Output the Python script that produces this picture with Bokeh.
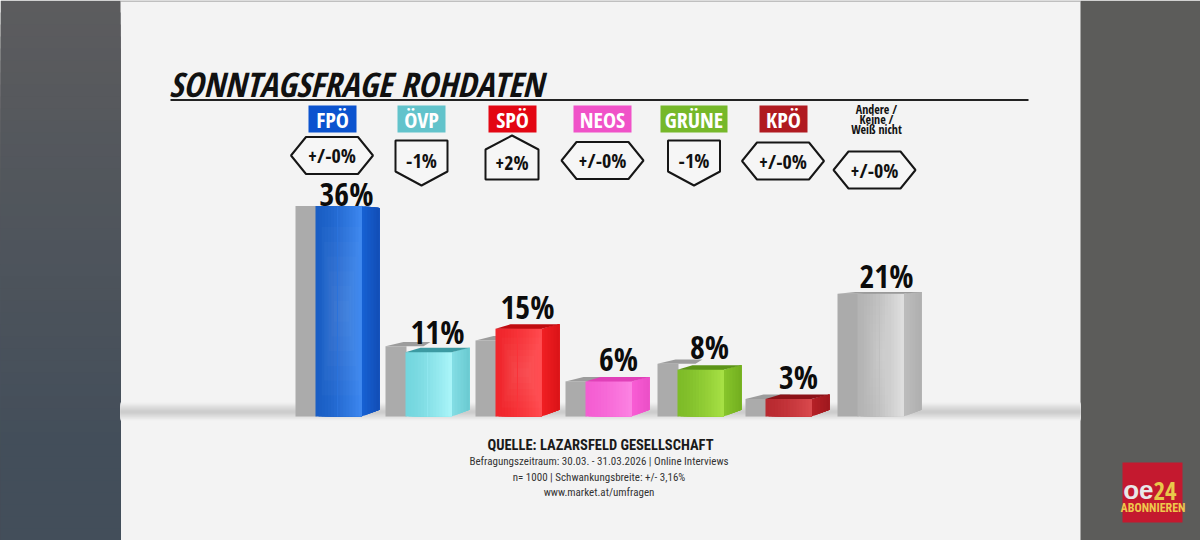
from bokeh.plotting import figure
from bokeh.models import Range1d
from bokeh.core.properties import value
from bokeh.embed import file_html
from bokeh.resources import INLINE

# ---- data ----
parties = ["FPÖ", "ÖVP", "SPÖ", "NEOS", "GRÜNE", "KPÖ", "Andere"]
values = [36, 11, 15, 6, 8, 3, 21]
changes = [0, -1, 2, 0, -1, 0, 0]
value_labels = ["36%", "11%", "15%", "6%", "8%", "3%", "21%"]
change_labels = ["+/-0%", "-1%", "+2%", "+/-0%", "-1%", "+/-0%", "+/-0%"]
other_label = ["Andere /", "Keine /", "Weiß nicht"]
title_text = "SONNTAGSFRAGE ROHDATEN"
source_lines = ["Befragungszeitraum: 30.03. - 31.03.2026 | Online Interviews",
                "n= 1000 | Schwankungsbreite: +/- 3,16%",
                "www.market.at/umfragen"]
source_head = "QUELLE: LAZARSFELD GESELLSCHAFT"

# ---- layout / style ----
HEAVY = value("Open Sans Condensed")
COND = value("Roboto Condensed")
BASE = 416.0
PX_PER_PCT = 5.85
bar_left = [295, 385, 475, 565, 657, 745, 837]
BACK_W, FRONT_W, SIDE_W = 20, 46, 18
tag_box = [(308, 356), (397, 445), (488, 536), (573, 631), (660, 727), (759, 807)]
badge_cx = [331.5, 421, 511.5, 602, 693.5, 782.5, 874]
badge_cy = [155, 162, 157, 160, 162, 160.5, 169.5]
label_cx = [346, 437, 527, 618, 709, 798, 886]
label_cy = [193, 331, 306, 358, 346, 376, 275]
# left, seam, highlight, side-front, side-back, top
pal = [("#1a5ec4", "#2a72dc", "#3c86ee", "#1660d2", "#124fb8", "#0f48a8"),
       ("#74d6de", "#8fe6ee", "#a8f4f8", "#82dde4", "#6ccbd2", "#3c9aa2"),
       ("#f0262c", "#fa3238", "#ff4a4e", "#f01e22", "#dc1418", "#c00c10"),
       ("#f45ed2", "#f86ad8", "#fc82e2", "#f85cd4", "#ec50c8", "#e040b8"),
       ("#7ebc28", "#8ecc32", "#a6e044", "#86c42a", "#74b020", "#5c9418"),
       ("#b82a30", "#c43238", "#d8484c", "#b42026", "#a0181e", "#8c1218"),
       ("#b4b4b4", "#c0c0c0", "#dedede", "#bcbcbc", "#b0b0b0", "#9a9a9a")]
tag_colors = ["#0b53cf", "#62c3cb", "#e30613", "#f052c8", "#76b82a", "#b01a20"]


def lerp(c1, c2, t):
    a = [int(c1[i:i + 2], 16) for i in (1, 3, 5)]
    b = [int(c2[i:i + 2], 16) for i in (1, 3, 5)]
    return "#%02x%02x%02x" % tuple(round(a[k] + (b[k] - a[k]) * t) for k in range(3))


p = figure(width=1200, height=540, output_backend="svg", toolbar_location=None,
           x_range=Range1d(0, 1200),
           y_range=Range1d(-(540 - BASE) / PX_PER_PCT, BASE / PX_PER_PCT),
           min_border=0, outline_line_color=None, background_fill_color="#f3f3f3")
p.extra_y_ranges = {"px": Range1d(540, 0)}
p.axis.visible = False
p.grid.visible = False

# backdrop: each strip runs to the end and the next paints over it, so no seam shows
for y in range(0, 540, 12):
    p.quad(left=0, right=120, top=y, bottom=540, y_range_name="px", line_color=None,
           fill_color=lerp("#5c5c5e", "#434e5a", min(1.0, y / 440)))
p.quad(left=1080, right=1200, top=0, bottom=540, y_range_name="px", line_color=None,
       fill_color="#5c5c5a")
p.quad(left=120, right=1080, top=0, bottom=1, y_range_name="px", line_color=None,
       fill_color="#8c8c8c")
# floor shadow
for i in range(9):
    p.quad(left=120, right=1080, top=402 + i, bottom=420 - i * 0.9, y_range_name="px",
           line_color=None, fill_color=lerp("#f0f0f0", "#cdcdcd", i / 8))

# title and rule
p.text([168.5], [83], text=[title_text], y_range_name="px", text_font=HEAVY,
       text_font_size="34px", text_font_style="bold italic", text_color="#111111",
       text_align="left", text_baseline="middle")
p.line([170, 1028], [99.5, 99.5], y_range_name="px", line_color="#222222", line_width=2)

# tags
for i, (x0, x1) in enumerate(tag_box):
    p.quad(left=x0, right=x1, top=105, bottom=132, y_range_name="px",
           fill_color=tag_colors[i], line_color=None)
    p.text([(x0 + x1) / 2], [118.5], text=[parties[i]], y_range_name="px", text_font=HEAVY,
           text_font_size="22px", text_font_style="bold", text_color="#ffffff",
           text_align="center", text_baseline="middle")
for j, line in enumerate(other_label):
    p.text([876], [109 + j * 10], text=[line], y_range_name="px", text_font=HEAVY,
           text_font_size="12px", text_font_style="bold", text_color="#111111",
           text_align="center", text_baseline="middle")

# change badges, the shape follows the sign of the change
for i, c in enumerate(changes):
    cx, cy = badge_cx[i], badge_cy[i]
    if c == 0:
        xs = [cx - 41, cx - 26, cx + 26, cx + 41, cx + 26, cx - 26]
        ys = [cy, cy - 18.5, cy - 18.5, cy, cy + 18.5, cy + 18.5]
    elif c < 0:
        xs = [cx - 26, cx + 26, cx + 26, cx, cx - 26]
        ys = [cy - 22, cy - 22, cy + 9, cy + 23, cy + 9]
    else:
        xs = [cx, cx + 26.5, cx + 26.5, cx - 26.5, cx - 26.5]
        ys = [cy - 22, cy - 8, cy + 22, cy + 22, cy - 8]
    p.patch(xs, ys, y_range_name="px", fill_color="#f6f6f6", line_color="#161616", line_width=2)
    ty = cy if c == 0 else (cy - 2 if c < 0 else cy + 5)
    p.text([cx], [ty], text=[change_labels[i]], y_range_name="px", text_font=HEAVY,
           text_font_size="20px", text_font_style="bold", text_color="#111111",
           text_align="center", text_baseline="middle")

# bars: percent scale on the main y range
DROP = 1.15  # bottom edge of the side recedes, in percent
for i, v in enumerate(values):
    prev = v - changes[i]
    L = bar_left[i]
    fx0 = L + BACK_W
    fx1 = fx0 + FRONT_W
    sx1 = fx1 + SIDE_W
    c = pal[i]
    slope = -0.35 if v > 25 else (0.75 if v < 20 else 0.3)  # perspective of the top, in percent

    # previous poll in grey, behind the bar
    if slope > 0:
        p.patch([L, L + 18, fx0 + 25, fx0 + 18], [prev, prev + slope, prev + slope, prev],
                fill_color="#9c9c9c", line_color=None)
    p.quad(left=L, right=fx0 + 1, bottom=0, top=prev, fill_color="#ababab", line_color=None)

    # right side, strips run to the far edge and are painted over from left to right
    n = 6
    for k in range(n):
        a = fx1 + SIDE_W * k / n
        p.patch([a, sx1, sx1, a],
                [DROP * k / n, DROP, v + slope, v + slope * k / n],
                fill_color=lerp(c[3], c[4], k / (n - 1)), line_color=None)

    # front face in the same way
    strips = 15
    for k in range(strips):
        t = k / (strips - 1)
        p.quad(left=fx0 + FRONT_W * k / strips, right=fx1, bottom=0, top=v,
               fill_color=lerp(c[0], c[2], t ** 1.4), line_color=None)
    # soft glow in the middle of the tall fronts
    if v >= 15:
        for k in range(6):
            p.quad(left=fx0 + 6 + 2.5 * k, right=fx1 - 2.5 * k,
                   bottom=v * (0.1 + 0.07 * k), top=v * (0.9 - 0.07 * k),
                   fill_color="#ffffff", fill_alpha=0.018, line_color=None)
    p.line([fx0 + 22, fx0 + 22], [0, v], line_color=c[1], line_width=1)
    p.line([fx1, fx1], [0, v], line_color=c[2], line_width=1)

    # top face
    if slope > 0:
        p.patch([fx0, fx0 + 15, sx1, fx1], [v, v + slope, v + slope, v],
                fill_color=c[5], line_color=None)

    # value label
    p.text([label_cx[i]], [label_cy[i]], text=[value_labels[i]], y_range_name="px",
           text_font=HEAVY, text_font_size="32px", text_font_style="bold",
           text_color="#0c0c0c", text_align="center", text_baseline="middle")

# source block
p.text([600], [445], text=[source_head], y_range_name="px", text_font=COND,
       text_font_size="14.5px", text_font_style="bold", text_color="#1a1a1a",
       text_align="center", text_baseline="middle")
for j, line in enumerate(source_lines):
    p.text([598.5], [461 + j * 15.5], text=[line], y_range_name="px", text_font=COND,
           text_font_size="11px", text_color="#333333", text_align="center",
           text_baseline="middle")

# broadcaster logo
p.quad(left=1122, right=1182, top=462, bottom=522, y_range_name="px",
       fill_color="#c4192f", line_color=None)
p.text([1153], [489], text=["oe"], y_range_name="px", text_font=value("Liberation Sans"),
       text_font_size="26px", text_font_style="bold", text_color="#e8e8e8",
       text_align="right", text_baseline="middle")
p.text([1153], [490], text=["24"], y_range_name="px", text_font=HEAVY,
       text_font_size="25px", text_font_style="bold", text_color="#e8c84a",
       text_align="left", text_baseline="middle")
p.text([1152.5], [507], text=["ABONNIEREN"], y_range_name="px", text_font=COND,
       text_font_size="12px", text_font_style="bold", text_color="#eec84c",
       text_align="center", text_baseline="middle")

open("out.html", "w").write(file_html(p, INLINE))
